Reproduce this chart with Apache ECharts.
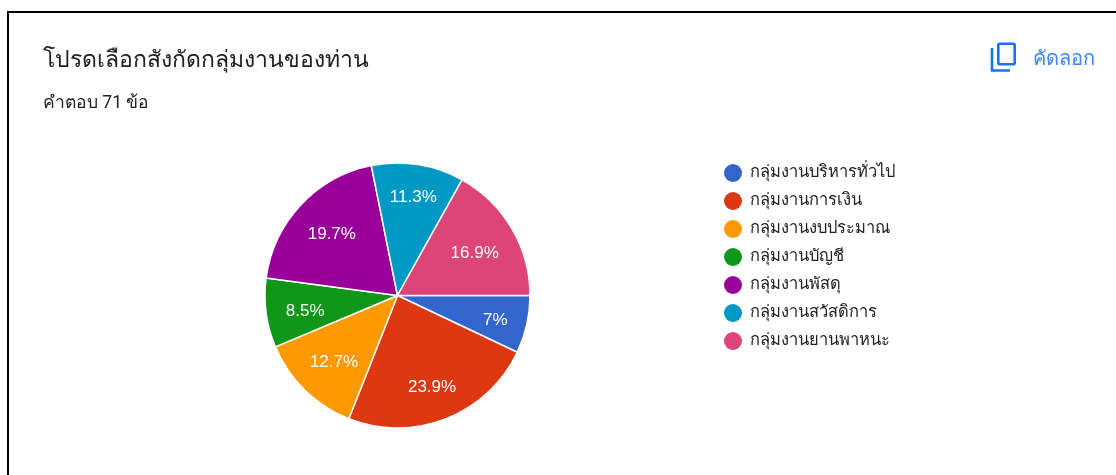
<!DOCTYPE html>
<html>
<head>
<meta charset="utf-8">
<style>html,body{margin:0;padding:0;background:#fff}#c{width:1116px;height:475px}</style>
<script src="https://cdn.jsdelivr.net/npm/echarts@6/dist/echarts.min.js"></script>
</head>
<body>
<div id="c"></div>
<script>
const titleText = 'โปรดเลือกสังกัดกลุ่มงานของท่าน';
const subtitleText = 'คำตอบ 71 ข้อ';
const copyText = 'คัดลอก';
const categories = ['กลุ่มงานบริหารทั่วไป','กลุ่มงานการเงิน','กลุ่มงานงบประมาณ','กลุ่มงานบัญชี','กลุ่มงานพัสดุ','กลุ่มงานสวัสดิการ','กลุ่มงานยานพาหนะ'];
const responses = [5,17,9,6,14,8,12];
const colors = ['#3366cc','#dc3912','#ff9900','#109618','#990099','#0099c6','#dd4477'];
const labelNudgeX = [-2,-3,8,9,9,0,-11];
const labelNudgeY = [2,-3,-6,2,9,3,10];
const font = 'Roboto, "Noto Sans", "Liberation Sans", sans-serif';
const data = categories.map((name,i)=>({name,value:responses[i]}));
const chart = echarts.init(document.getElementById('c'),null,{renderer:'canvas'});
chart.setOption({
  animation:false,
  color:colors,
  title:[
    {text:titleText,left:43,top:50,padding:0,textStyle:{fontFamily:font,fontSize:23,fontWeight:'normal',color:'#202124'}},
    {text:subtitleText,left:43,top:95,padding:0,textStyle:{fontFamily:font,fontSize:17.5,fontWeight:'normal',color:'#202124'}},
    {text:copyText,left:1033,top:50,padding:0,textStyle:{fontFamily:font,fontSize:20,fontWeight:'normal',color:'#4285f4'}}
  ],
  legend:{
    orient:'vertical',left:724,top:164,padding:0,
    itemWidth:18,itemHeight:18,itemGap:10,icon:'circle',
    data:categories,
    itemStyle:{borderWidth:0},
    textStyle:{fontFamily:font,fontSize:16.5,color:'#222222',lineHeight:18,padding:[0,0,0,3]},
    selectedMode:false
  },
  series:[
    {type:'pie',center:[397.5,295.5],radius:[0,132.5],startAngle:0,clockwise:true,silent:true,
     data,label:{show:false},labelLine:{show:false},
     itemStyle:{borderColor:'#fff',borderWidth:1.5}},
    {type:'pie',center:[397.5,295.5],radius:[66,132.5],startAngle:0,clockwise:true,silent:true,
     percentPrecision:1,data,
     itemStyle:{color:'rgba(0,0,0,0)',borderWidth:0},
     labelLine:{show:false},
     labelLayout:p=>({dx:labelNudgeX[p.dataIndex],dy:labelNudgeY[p.dataIndex]}),
     label:{show:true,position:'inside',formatter:'{d}%',color:'#fff',fontFamily:'"Liberation Sans", Arial, sans-serif',fontSize:17,textBorderWidth:0}}
  ],
  graphic:[
    {type:'rect',shape:{x:7,y:11,width:2,height:464},style:{fill:'#000'}},
    {type:'rect',shape:{x:7,y:11,width:1109,height:2},style:{fill:'#000'}},
    {type:'group',x:990,y:43,children:[
      {type:'polyline',shape:{points:[[2,5],[2,27.5],[20,27.5]]},style:{fill:'none',stroke:'#1a73e8',lineWidth:2.6}},
      {type:'rect',shape:{x:8.3,y:0.7,width:16.4,height:20.5,r:1.5},style:{fill:'none',stroke:'#1a73e8',lineWidth:2.6}}
    ]}
  ]
});
</script>
</body>
</html>
